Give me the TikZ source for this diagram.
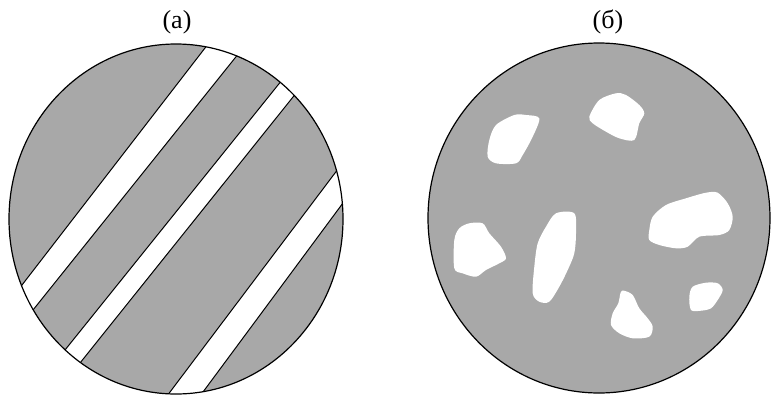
\documentclass[tikz,border=0pt]{standalone}
\usepackage{fontspec}
\setmainfont{Liberation Serif}
\usetikzlibrary{calc}
\definecolor{fillgray}{RGB}{168,168,168}
\tikzset{
  outline/.style={draw=black,line width=1.2pt},
  stripe/.style={fill=white},
  edge/.style={draw=black,line width=1pt},
  blob/.style={fill=white,draw=none},
  lab/.style={font=\fontsize{26}{30}\selectfont,anchor=base}
}
\begin{document}
\begin{tikzpicture}[x=1pt,y=-1pt]
\useasboundingbox (0,0) rectangle (771,394);
% left disc
\coordinate (L) at (176,219);
\begin{scope}
  \clip (L) ellipse [x radius=167, y radius=175];
  \fill[fillgray] (L) ellipse [x radius=167, y radius=175];
  % stripe edges: pairs of points
  \coordinate (s1a) at (205,48);  \coordinate (s1b) at (22,285);
  \coordinate (s1c) at (235,58);  \coordinate (s1d) at (33,310);
  \coordinate (s2a) at (278,85);  \coordinate (s2b) at (65,350);
  \coordinate (s2c) at (293,97);  \coordinate (s2d) at (80,363);
  \coordinate (s3a) at (335,173); \coordinate (s3b) at (170,392);
  \coordinate (s3c) at (340,207); \coordinate (s3d) at (203,392);
  \foreach \s in {1,2,3}{
    \fill[stripe] ($(s\s a)!-0.3!(s\s b)$) -- ($(s\s a)!1.3!(s\s b)$)
      -- ($(s\s c)!1.3!(s\s d)$) -- ($(s\s c)!-0.3!(s\s d)$) -- cycle;
    \draw[edge] ($(s\s a)!-0.3!(s\s b)$) -- ($(s\s a)!1.3!(s\s b)$);
    \draw[edge] ($(s\s c)!-0.3!(s\s d)$) -- ($(s\s c)!1.3!(s\s d)$);
  }
\end{scope}
\draw[outline] (L) ellipse [x radius=167, y radius=175];
% right disc
\coordinate (R) at (599,218);
\fill[fillgray] (R) ellipse [x radius=171, y radius=175];
\draw[outline] (R) ellipse [x radius=171, y radius=175];
\begin{scope}[blob]
\fill[white] plot[smooth cycle,tension=0.5] coordinates {(489.3,140) (496,125) (514.3,115) (526,115) (539.3,118.3) (532.7,136.7) (522.7,155) (516,163.3) (496,163.3) (487.7,156.7)};
\fill[white] plot[smooth cycle,tension=0.5] coordinates {(589.3,116.7) (599.3,100) (616,93.3) (626,95) (639.3,105) (644.3,113.3) (639.3,123.3) (634.3,140) (619.3,138.3) (606,131.7) (592.7,123.3)};
\fill[white] plot[smooth cycle,tension=0.5] coordinates {(649.3,230) (652.7,216.7) (666,205) (686,198.3) (706,192.7) (717.7,192.7) (727.7,203.3) (732.7,216.7) (729.3,230) (719.3,235) (699.3,236.7) (687.7,246.7) (676,248.3) (659.3,245) (649.3,240)};
\fill[white] plot[smooth cycle,tension=0.5] coordinates {(454.3,240) (459.3,228.3) (469.3,223.3) (482.7,223.3) (489.3,233.3) (501,246.7) (506,258.3) (499.3,263.3) (486,270) (476,276.7) (462.7,273.3) (454.3,268.3)};
\fill[white] plot[smooth cycle,tension=0.5] coordinates {(556,213.3) (574.3,213.3) (576,233.3) (574.3,253.3) (567.7,270) (559.3,286.7) (549.3,301.7) (539.3,301.7) (532.7,293.3) (534.3,266.7) (537.7,243.3) (546,226.7)};
\fill[white] plot[smooth cycle,tension=0.5] coordinates {(624,290.7) (632.7,295) (639.3,308.3) (647.7,318.3) (652.7,326.7) (649.3,336.7) (632.7,338.3) (619.3,333.3) (611,325) (612.7,313.3) (618.3,303.3) (620.7,292.3)};
\fill[white] plot[smooth cycle,tension=0.5] coordinates {(692.7,286.7) (706,282.7) (717.7,283.3) (722.7,290) (717.7,300) (711,308.3) (701,310.7) (691,310) (689.3,296.7)};
\end{scope}
% labels
\node[lab] (la) at (177,28) {(a)};
\node[lab] (lb) at (608,28) {(б)};
\end{tikzpicture}
\end{document}
